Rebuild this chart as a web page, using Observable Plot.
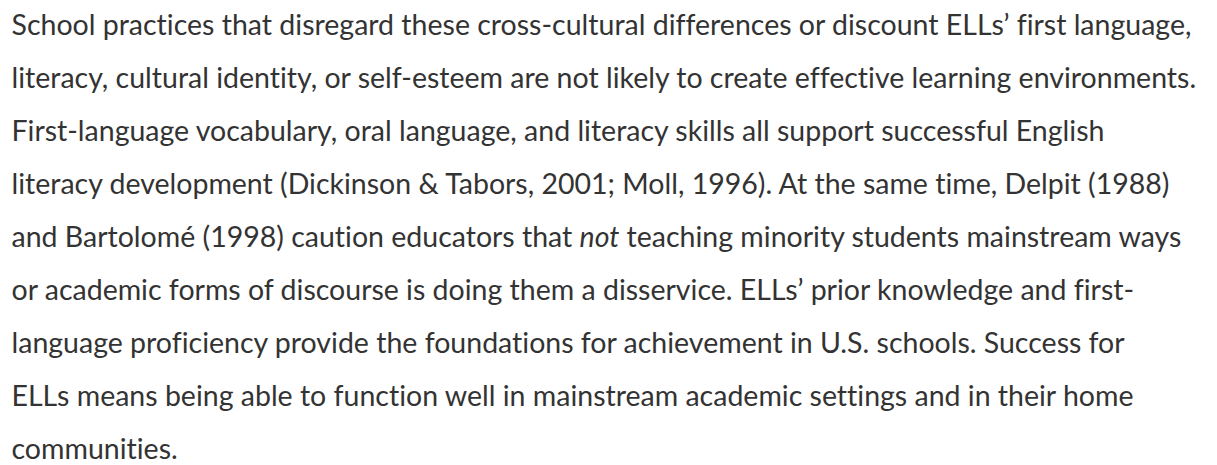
<!DOCTYPE html>
<html>
<head>
<meta charset="utf-8">
<script src="https://cdn.jsdelivr.net/npm/d3@7"></script>
<script src="https://cdn.jsdelivr.net/npm/@observablehq/plot@0.6"></script>
<style>
  html, body { margin: 0; padding: 0; background: #fff; }
  #chart svg { display: block; }
  #chart svg text { font-variant-ligatures: none; }
</style>
</head>
<body>
<div id="chart"></div>
<script>
const lines = [
  "School practices that disregard these cross-cultural differences or discount ELLs’ first language,",
  "literacy, cultural identity, or self-esteem are not likely to create effective learning environments.",
  "First-language vocabulary, oral language, and literacy skills all support successful English",
  "literacy development (Dickinson & Tabors, 2001; Moll, 1996). At the same time, Delpit (1988)",
  "and Bartolomé (1998) caution educators that not teaching minority students mainstream ways",
  "or academic forms of discourse is doing them a disservice. ELLs’ prior knowledge and first-",
  "language proficiency provide the foundations for achievement in U.S. schools. Success for",
  "ELLs means being able to function well in mainstream academic settings and in their home",
  "communities."
];
const italicSpans = [{line: 4, before: "and Bartolomé (1998) caution educators that ", word: "not"}];
const lineIndex = lines.map((_, i) => i);

const chart = Plot.plot({
  width: 1217,
  height: 465,
  margin: 0,
  x: {domain: [0, 1], range: [11, 1205], axis: null},
  y: {type: "point", domain: lineIndex, range: [34, 458], padding: 0, axis: null},
  marks: [
    Plot.text(lineIndex, {
      x: () => 0,
      y: d => d,
      text: d => lines[d],
      textAnchor: "start",
      lineAnchor: "bottom",
      fontSize: 28.5,
      fontFamily: "Lato, 'Open Sans', sans-serif",
      fill: "#333333"
    })
  ]
});

// Apply italic styling to the word(s) marked in italicSpans
const texts = chart.querySelectorAll("text");
texts.forEach(t => {
  const content = t.textContent;
  italicSpans.forEach(s => {
    if (content === lines[s.line]) {
      const rest = content.slice(s.before.length + s.word.length);
      t.textContent = "";
      const ns = "http://www.w3.org/2000/svg";
      const a = document.createElementNS(ns, "tspan"); a.textContent = s.before;
      const b = document.createElementNS(ns, "tspan"); b.textContent = s.word; b.setAttribute("font-style", "italic");
      const c = document.createElementNS(ns, "tspan"); c.textContent = rest;
      t.append(a, b, c);
    }
  });
});

document.getElementById("chart").append(chart);
</script>
</body>
</html>
